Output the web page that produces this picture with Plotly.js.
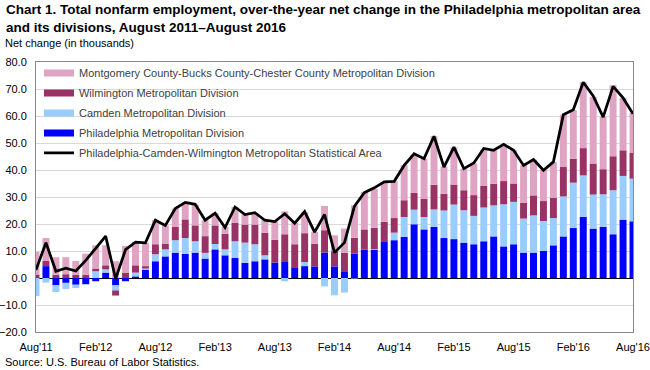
<!DOCTYPE html>
<html>
<head>
<meta charset="utf-8">
<script src="https://cdn.plot.ly/plotly-3.0.1.min.js"></script>
<style>
  html, body { margin: 0; padding: 0; background: #fff; }
  #chart { width: 650px; height: 370px; }
</style>
</head>
<body>
<div id="chart"></div>
<script>
// Months Aug 2011 .. Aug 2016 (61 months)
const months = [
  "Aug'11","Sep'11","Oct'11","Nov'11","Dec'11","Jan'12","Feb'12","Mar'12","Apr'12","May'12","Jun'12","Jul'12",
  "Aug'12","Sep'12","Oct'12","Nov'12","Dec'12","Jan'13","Feb'13","Mar'13","Apr'13","May'13","Jun'13","Jul'13",
  "Aug'13","Sep'13","Oct'13","Nov'13","Dec'13","Jan'14","Feb'14","Mar'14","Apr'14","May'14","Jun'14","Jul'14",
  "Aug'14","Sep'14","Oct'14","Nov'14","Dec'14","Jan'15","Feb'15","Mar'15","Apr'15","May'15","Jun'15","Jul'15",
  "Aug'15","Sep'15","Oct'15","Nov'15","Dec'15","Jan'16","Feb'16","Mar'16","Apr'16","May'16","Jun'16","Jul'16",
  "Aug'16"
];

const philadelphia = [
  0.3, 4.4, -2.7, -1.8, -2.5, -2.3, -1.2, 2.0, -2.7, -1.2, 0.6, 3.1,
  6.2, 8.0, 9.4, 8.9, 9.4, 7.2, 10.6, 8.4, 7.4, 5.6, 6.2, 6.9,
  5.7, 6.2, 3.7, 4.4, 4.3, 9.4, 4.3, 2.5, 9.0, 10.5, 10.5, 13.6,
  14.0, 15.2, 19.9, 18.0, 18.9, 14.8, 14.4, 13.1, 12.5, 13.6, 15.4, 11.7,
  12.5, 9.4, 9.4, 10.0, 12.1, 15.4, 18.5, 22.6, 18.3, 18.9, 16.2, 21.6,
  21.0
];

const camden = [
  -6.7, -1.7, -2.5, -2.3, -1.2, -0.2, 2.5, 1.2, -1.9, 0.0, 1.4, 0.4,
  2.6, 2.6, 4.6, 5.9, 4.2, 2.1, 2.0, 2.2, 6.2, 7.5, 6.3, 1.5,
  0.0, -1.2, 0.0, 1.5, 0.0, -3.1, -6.4, -5.4, -0.2, 0.0, 0.2, 0.0,
  2.8, 7.4, 5.4, 4.6, 6.5, 10.2, 12.8, 12.0, 10.5, 12.5, 11.5, 15.6,
  15.7, 12.6, 13.8, 11.1, 10.1, 14.8, 16.8, 15.4, 12.6, 12.1, 16.3, 16.2,
  15.8
];

const wilmington = [
  1.0, 1.9, 1.2, 1.4, 1.2, 1.2, 1.0, 1.5, -1.9, 2.0, 2.7, 0.9,
  3.7, 2.0, 4.9, 6.9, 5.9, 6.2, 6.9, 5.8, 6.9, 6.7, 7.3, 8.3,
  8.5, 10.0, 8.8, 10.7, 8.4, 8.3, 5.6, 6.8, 5.9, 7.5, 7.9, 7.2,
  5.4, 6.2, 6.2, 6.8, 9.1, 6.2, 7.4, 7.4, 7.7, 8.0, 8.0, 8.6,
  6.8, 5.8, 7.4, 7.4, 7.5, 10.9, 8.9, 10.1, 11.5, 9.3, 12.6, 9.5,
  9.5
];

const montgomery = [
  8.4, 8.5, 6.5, 6.3, 5.1, 7.8, 8.6, 7.4, 6.2, 9.9, 8.6, 8.6,
  8.9, 6.9, 6.8, 6.3, 7.7, 5.9, 4.5, 2.5, 5.8, 3.7, 4.1, 4.7,
  6.7, 8.5, 8.0, 7.8, 4.3, 9.0, 5.9, 9.0, 12.0, 13.8, 14.4, 14.8,
  13.6, 13.0, 14.0, 14.8, 18.0, 10.1, 13.8, 8.0, 11.7, 13.5, 12.3, 13.2,
  12.3, 14.0, 13.2, 11.6, 13.2, 19.4, 17.9, 24.4, 24.7, 19.4, 26.3, 19.4,
  14.8
];

const msaTotal = [
  3.0, 13.1, 2.5, 3.6, 2.6, 6.5, 11.0, 15.5, -0.3, 10.5, 13.3, 13.0,
  21.4, 19.5, 25.7, 28.0, 27.3, 21.4, 24.0, 18.7, 26.3, 23.5, 24.2, 21.4,
  20.9, 23.8, 20.3, 24.6, 17.0, 23.5, 9.4, 13.1, 26.5, 31.6, 33.4, 35.6,
  35.8, 41.7, 46.0, 44.2, 52.5, 41.1, 48.5, 40.5, 42.6, 48.0, 47.3, 49.5,
  47.3, 41.7, 43.9, 39.9, 43.0, 60.5, 62.3, 72.5, 67.4, 59.6, 71.0, 66.7,
  60.8
];

const tickMonths = ["Aug'11","Feb'12","Aug'12","Feb'13","Aug'13","Feb'14","Aug'14","Feb'15","Aug'15","Feb'16","Aug'16"];

const seriesNames = {
  mont: "Montgomery County-Bucks County-Chester County Metropolitan Division",
  wil: "Wilmington Metropolitan Division",
  cam: "Camden Metropolitan Division",
  phi: "Philadelphia Metropolitan Division",
  msa: "Philadelphia-Camden-Wilmington Metropolitan Statistical Area"
};

const titleText = "Chart 1. Total nonfarm employment, over-the-year net change in the Philadelphia metropolitan area<br>and its divisions, August 2011\u2013August 2016";

const colors = { phi: "#0000FF", cam: "#99CCFF", wil: "#993366", mont: "#DFA3C4", msa: "#000000" };

const xIdx = months.map((m, i) => i);
const tickVals = tickMonths.map(t => months.indexOf(t));

function barTrace(name, vals, color) {
  return { type: "bar", x: xIdx, y: vals, name: name, marker: { color: color, line: { width: 0 } },
           showlegend: false, hovertext: months, hoverinfo: "text+y+name" };
}
function legendLine(key, color, width) {
  return { type: "scatter", mode: "lines", x: [null], y: [null], name: seriesNames[key],
           legendgroup: key, line: { color: color, width: width }, hoverinfo: "skip" };
}

const traces = [
  barTrace(seriesNames.phi, philadelphia, colors.phi),
  barTrace(seriesNames.cam, camden, colors.cam),
  barTrace(seriesNames.wil, wilmington, colors.wil),
  barTrace(seriesNames.mont, montgomery, colors.mont),
  { type: "scatter", mode: "lines", x: xIdx, y: msaTotal, name: seriesNames.msa,
    line: { color: colors.msa, width: 2.75 }, showlegend: false, hovertext: months, hoverinfo: "text+y+name" },
  legendLine("mont", colors.mont, 7),
  legendLine("wil", colors.wil, 7),
  legendLine("cam", colors.cam, 7),
  legendLine("phi", colors.phi, 7),
  legendLine("msa", colors.msa, 2.75)
];

const FONT = "'Liberation Sans', Arial, sans-serif";
const PLOT_W = 597, PLOT_H = 270, PLOT_L = 36, PLOT_B = 332;
const px = v => (v - PLOT_L) / PLOT_W;
const py = v => (PLOT_B - v) / PLOT_H;

const layout = {
  width: 650, height: 370,
  margin: { l: 36, r: 17, t: 62, b: 38, pad: 0 },
  paper_bgcolor: "#ffffff", plot_bgcolor: "#ffffff",
  barmode: "relative", bargap: 0.3,
  font: { family: FONT, size: 11, color: "#000000" },
  xaxis: {
    range: [0, 60], tickmode: "array", tickvals: tickVals, ticktext: tickMonths,
    showgrid: false, zeroline: false, ticks: "", ticklabelstandoff: 5,
    showline: true, mirror: true, linecolor: "#888888", linewidth: 1,
    tickfont: { family: FONT, size: 11, color: "#000000" }, fixedrange: true
  },
  yaxis: {
    range: [-20, 80], dtick: 10, tick0: 0, tickformat: ".1f",
    showgrid: true, gridcolor: "#d9d9d9", gridwidth: 1,
    zeroline: true, zerolinecolor: "#000000", zerolinewidth: 1,
    showline: true, mirror: true, linecolor: "#888888", linewidth: 1,
    ticks: "", ticklabelstandoff: 6,
    tickfont: { family: FONT, size: 11, color: "#000000" }, fixedrange: true
  },
  legend: {
    x: 0.005, xanchor: "left", y: 1.013, yanchor: "top",
    bgcolor: "rgba(0,0,0,0)", borderwidth: 0, traceorder: "grouped", tracegroupgap: 1,
    font: { family: FONT, size: 11, color: "#404040" }, itemwidth: 30
  },
  annotations: [
    { text: titleText, xref: "paper", yref: "paper", align: "left",
      x: px(4), xanchor: "left", y: py(0), yanchor: "top",
      showarrow: false, font: { family: FONT, size: 13.5, color: "#000000", weight: "bold" } },
    { text: "Net change (in thousands)", xref: "paper", yref: "paper",
      x: px(3), xanchor: "left", y: py(43), yanchor: "middle",
      showarrow: false, font: { family: FONT, size: 11, color: "#000000" } },
    { text: "Source: U.S. Bureau of Labor Statistics.", xref: "paper", yref: "paper",
      x: px(3), xanchor: "left", y: py(362), yanchor: "middle",
      showarrow: false, font: { family: FONT, size: 11, color: "#000000" } }
  ],
  showlegend: true
};

Plotly.newPlot("chart", traces, layout, { displayModeBar: false, staticPlot: true });
</script>
</body>
</html>
